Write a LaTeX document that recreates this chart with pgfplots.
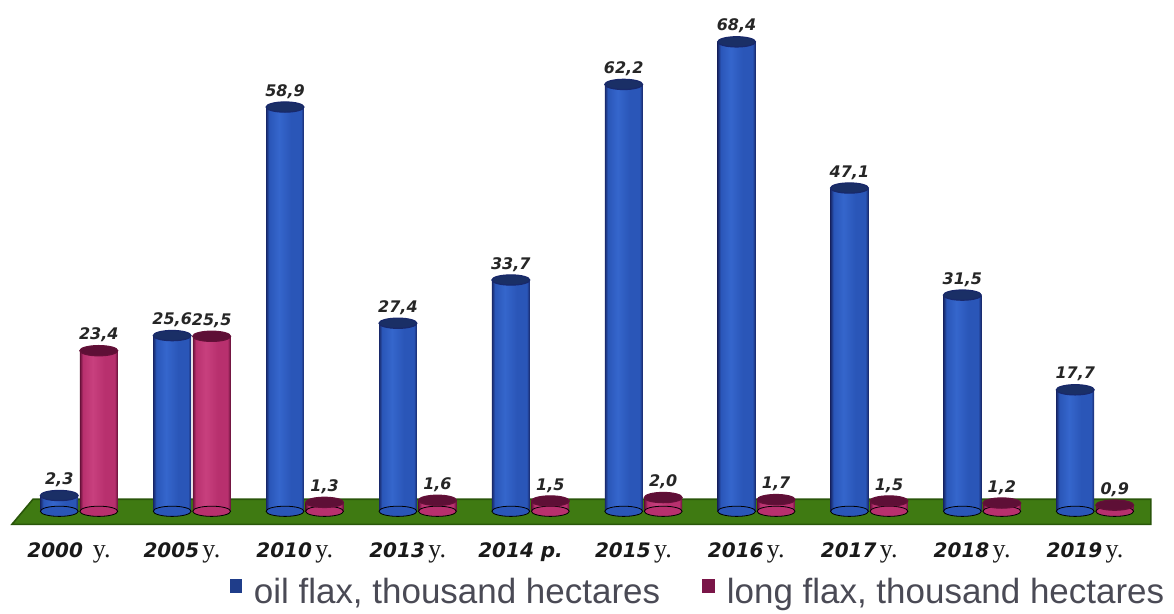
\documentclass[border=0pt]{standalone}
\usepackage{pgfplots}
\usepackage{pgfplotstable}
\pgfplotsset{compat=1.18}
\usepackage{fontspec}
\setmainfont{Liberation Sans}
\newfontfamily\lblfont{DejaVu Sans}
\newfontfamily\serfont{Liberation Serif}
\definecolor{bluemid}{HTML}{2A56B8}
\definecolor{bluelight}{HTML}{3566CC}
\definecolor{blueedge}{HTML}{18286A}
\definecolor{bluetop}{HTML}{1A2F66}
\definecolor{pinkmid}{HTML}{B8306E}
\definecolor{pinklight}{HTML}{C8407E}
\definecolor{pinkedge}{HTML}{641038}
\definecolor{pinktop}{HTML}{5E0F36}
\definecolor{floorgreen}{HTML}{3F7A12}
\definecolor{flooredge}{HTML}{2A560A}
\definecolor{legblue}{HTML}{1F3D8A}
\definecolor{legpink}{HTML}{7A1548}
\definecolor{legtext}{HTML}{4A4A55}
\pgfdeclarehorizontalshading{bluecyl}{100bp}{color(0bp)=(blueedge); color(25bp)=(blueedge); color(29bp)=(bluemid); color(42bp)=(bluelight); color(58bp)=(bluemid); color(71bp)=(bluemid); color(75bp)=(blueedge); color(100bp)=(blueedge)}
\pgfdeclarehorizontalshading{pinkcyl}{100bp}{color(0bp)=(pinkedge); color(25bp)=(pinkedge); color(29bp)=(pinkmid); color(42bp)=(pinklight); color(58bp)=(pinkmid); color(71bp)=(pinkmid); color(75bp)=(pinkedge); color(100bp)=(pinkedge)}
\newcommand{\yr}[2]{{\fontsize{10}{12}\selectfont\lblfont\bfseries\itshape #1}\,{\serfont\fontsize{13}{13}\selectfont #2}}
\pgfkeys{/pgf/number format/assume math mode=true}

% x = bar position, y = value, b = base (0)
\pgfplotstableread{
x y b
-0.175 2.3 0
0.825 25.6 0
1.825 58.9 0
2.825 27.4 0
3.825 33.7 0
4.825 62.2 0
5.825 68.4 0
6.825 47.1 0
7.825 31.5 0
8.825 17.7 0
}\oiltable
\pgfplotstableread{
x y b
0.175 23.4 0
1.175 25.5 0
2.175 1.3 0
3.175 1.6 0
4.175 1.5 0
5.175 2.0 0
6.175 1.7 0
7.175 1.5 0
8.175 1.2 0
9.175 0.9 0
}\longtable

\begin{document}
\begin{tikzpicture}
\begin{axis}[
  x=56.5pt, y=3.435pt,
  xmin=-0.7, xmax=9.7, ymin=-2.0, ymax=74.5,
  axis line style={draw=none},
  tick style={draw=none},
  ytick=\empty,
  xtick={0,1,2,3,4,5,6,7,8,9},
  major tick length=0pt,
  xticklabels={
    {\yr{2000}{\ y.}},
    {\yr{2005}{y.}},
    {\yr{2010}{y.}},
    {\yr{2013}{y.}},
    {{\fontsize{10}{12}\selectfont\lblfont\bfseries\itshape 2014 p.}},
    {\yr{2015}{y.}},
    {\yr{2016}{y.}},
    {\yr{2017}{y.}},
    {\yr{2018}{y.}},
    {\yr{2019}{y.}}},
  xticklabel style={anchor=north, inner sep=0pt, yshift=-8.75pt, xshift=-5pt, text=black!90},
  clip=false,
  legend columns=2,
  legend style={draw=none, fill=none, at={(0,0)}, anchor=north west,
    xshift=115pt, yshift=-26.3pt, inner sep=0pt,
    font=\fontsize{17.5}{19}\selectfont, text=legtext,
    nodes={inner sep=0pt, text depth=0.22em},
    /tikz/every odd column/.append style={column sep=6pt},
    /tikz/every even column/.append style={column sep=21pt}},
  every node near coord/.append style={font=\fontsize{8}{9}\selectfont\lblfont\bfseries\itshape, anchor=south, inner sep=0pt, yshift=4pt, text=black!85},
  oilbar/.style={ybar, bar width=0.335, bar shift=0pt, draw=none, forget plot, shading=bluecyl},
  longbar/.style={ybar, bar width=0.335, bar shift=0pt, draw=none, forget plot, shading=pinkcyl},
]
% floor
\addplot[fill=floorgreen, draw=flooredge, line width=0.8pt, forget plot]
  coordinates {(-0.594,-1.9) (9.495,-1.9) (9.495,1.75) (-0.408,1.75)} -- cycle;

% bottoms of cylinders
\addplot[only marks, mark=*, mark size=9.46pt, forget plot,
  mark options={yscale=0.27, fill=bluemid, draw=none}]
  table[x=x, y=b]{\oiltable};
\addplot[only marks, mark=*, mark size=9.46pt, forget plot,
  mark options={yscale=0.27, fill=pinkmid, draw=none}]
  table[x=x, y=b]{\longtable};

% oil flax cylinder bodies (one plot per bar, so each is shaded on its own)
\addplot[oilbar] coordinates {(-0.175,2.3)};
\addplot[oilbar] coordinates {(0.825,25.6)};
\addplot[oilbar] coordinates {(1.825,58.9)};
\addplot[oilbar] coordinates {(2.825,27.4)};
\addplot[oilbar] coordinates {(3.825,33.7)};
\addplot[oilbar] coordinates {(4.825,62.2)};
\addplot[oilbar] coordinates {(5.825,68.4)};
\addplot[oilbar] coordinates {(6.825,47.1)};
\addplot[oilbar] coordinates {(7.825,31.5)};
\addplot[oilbar] coordinates {(8.825,17.7)};
% long flax cylinder bodies
\addplot[longbar] coordinates {(0.175,23.4)};
\addplot[longbar] coordinates {(1.175,25.5)};
\addplot[longbar] coordinates {(2.175,1.3)};
\addplot[longbar] coordinates {(3.175,1.6)};
\addplot[longbar] coordinates {(4.175,1.5)};
\addplot[longbar] coordinates {(5.175,2.0)};
\addplot[longbar] coordinates {(6.175,1.7)};
\addplot[longbar] coordinates {(7.175,1.5)};
\addplot[longbar] coordinates {(8.175,1.2)};
\addplot[longbar] coordinates {(9.175,0.9)};

% tops of cylinders with value labels
\addplot[only marks, mark=*, mark size=9.46pt, forget plot,
  mark options={yscale=0.27, fill=bluetop, draw=blueedge, line width=0.6pt},
  nodes near coords={\pgfmathprintnumber[fixed,fixed zerofill,precision=1,use comma]{\pgfplotspointmeta}}]
  table[x=x, y=y]{\oiltable};
\addplot[only marks, mark=*, mark size=9.46pt, forget plot,
  mark options={yscale=0.27, fill=pinktop, draw=pinkedge, line width=0.6pt},
  nodes near coords={\pgfmathprintnumber[fixed,fixed zerofill,precision=1,use comma]{\pgfplotspointmeta}}]
  table[x=x, y=y]{\longtable};

\addlegendimage{legend image code/.code={\fill[legblue] (0pt,0pt) rectangle (5.5pt,6.5pt);}}
\addlegendentry{oil flax, thousand hectares}
\addlegendimage{legend image code/.code={\fill[legpink] (0pt,0pt) rectangle (6pt,6.5pt);}}
\addlegendentry{long flax, thousand hectares}

% keep room below the legend in the picture's bounding box
\path (rel axis cs:0,0) -- ++(0pt,-44.3pt);
\end{axis}
\end{tikzpicture}
\end{document}
